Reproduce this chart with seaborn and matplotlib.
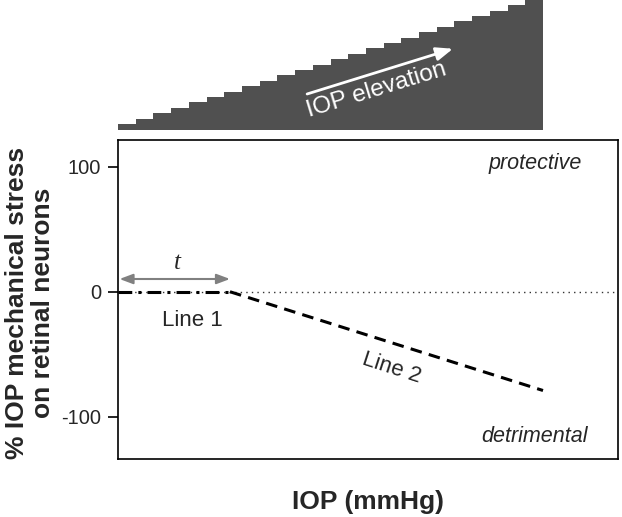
import matplotlib
matplotlib.use("Agg")
import matplotlib.pyplot as plt
import seaborn as sns

# staircase above the plot (IOP steps)
step_index = [1, 2, 3, 4, 5, 6, 7, 8, 9, 10, 11, 12,
              13, 14, 15, 16, 17, 18, 19, 20, 21, 22, 23, 24]
step_height = [6, 11, 17, 22, 28, 33, 38, 44, 49, 55, 60, 65,
               71, 76, 82, 87, 92, 98, 103, 109, 114, 119, 125, 130]

# response lines
line1_x = [0, 22.4]
line1_y = [0, 0]
line2_x = [22.4, 85]
line2_y = [0, -79]

y_ticks = [100, 0, -100]
y_tick_labels = ["100", "0", "-100"]

sns.set_style("ticks")
plt.rcParams['font.family'] = ['Liberation Sans', 'DejaVu Sans']

fig = plt.figure(figsize=(6.22, 5.17), dpi=100)

# top staircase
ax_top = fig.add_axes([118 / 622, 1 - 130 / 517, 425 / 622, 130 / 517])
sns.barplot(x=step_index, y=step_height, color="#505050", saturation=1,
            width=1, linewidth=0, ax=ax_top)
ax_top.set_xlim(-0.5, 23.5)
ax_top.set_ylim(0, 130)
ax_top.axis("off")
ax_top.annotate("", xy=(0.788, 0.625), xytext=(0.445, 0.277),
                xycoords="axes fraction", textcoords="axes fraction",
                arrowprops=dict(arrowstyle="-|>,head_length=1.0,head_width=0.4",
                                color="white", lw=2, shrinkA=0, shrinkB=0))
ax_top.text(0.609, 0.31, "IOP elevation", transform=ax_top.transAxes,
            color="white", fontsize=17.5, rotation=17,
            ha="center", va="center", rotation_mode="anchor")

# main plot
ax = fig.add_axes([118 / 622, 1 - 459 / 517, 500 / 622, 319 / 517])
ax.axhline(0, color="#333333", lw=1, linestyle=(0, (1, 3)))
sns.lineplot(x=line1_x, y=line1_y, color="black", lw=2.2,
             linestyle=(0, (4.5, 2, 1, 2)), ax=ax)
sns.lineplot(x=line2_x, y=line2_y, color="black", lw=2.2,
             linestyle=(0, (3.8, 2.4)), ax=ax)

ax.set_xlim(0, 100)
ax.set_ylim(-133.8, 121.4)
ax.set_xticks([])
ax.set_yticks(y_ticks)
ax.set_yticklabels(y_tick_labels)
ax.tick_params(axis="y", length=7, width=1.2, direction="out",
               labelsize=14.5, pad=5, color="black")
for s in ax.spines.values():
    s.set_linewidth(1.2)
    s.set_color("black")

# t interval arrow
ax.annotate("", xy=(22.4, 10.2), xytext=(0.3, 10.2),
            arrowprops=dict(arrowstyle="<|-|>,head_length=0.8,head_width=0.3",
                            color="#808080", lw=1.5, shrinkA=0, shrinkB=0))
ax.text(11.8, 23, "t", fontsize=18, style="italic",
        family=["Liberation Serif", "DejaVu Serif"], ha="center", va="center")

ax.text(14.8, -23, "Line 1", fontsize=16, ha="center", va="center")
ax.text(54.8, -61, "Line 2", fontsize=16, ha="center", va="center",
        rotation=-18, rotation_mode="anchor")
ax.text(83.4, 103, "protective", fontsize=15.5, style="italic",
        ha="center", va="center")
ax.text(83.4, -116, "detrimental", fontsize=15.5, style="italic",
        ha="center", va="center")

ax.set_xlabel("IOP (mmHg)", fontsize=19, fontweight="bold", labelpad=22)
ax.set_ylabel("% IOP mechanical stress\non retinal neurons", fontsize=19,
              fontweight="bold", linespacing=1.1)
ax.yaxis.set_label_coords(-0.126, 0.49)

plt.savefig("out.png", dpi=100)
